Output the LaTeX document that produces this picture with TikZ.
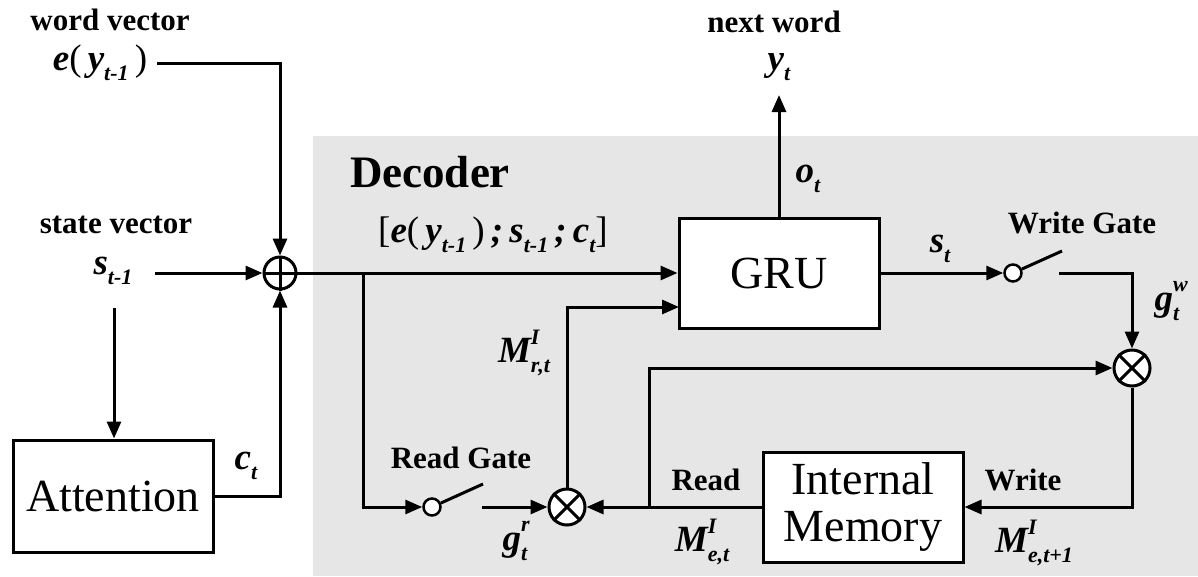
\documentclass[tikz,border=0pt]{standalone}
\usepackage{fontspec}
\setmainfont{Liberation Serif}
\usetikzlibrary{arrows.meta}
\newcommand\fs[1]{\fontsize{#1}{#1}\selectfont}
\newcommand\lsub[1]{\raisebox{-0.28em}{\fs{22}#1}}
\newcommand\lss[2]{\makebox[0pt][l]{\raisebox{0.5em}{\fs{22}#1}}\raisebox{-0.28em}{\fs{22}#2}}
\newcommand\up[1]{\textnormal{#1}}
\definecolor{decgray}{HTML}{E6E6E6}
\tikzset{
  wire/.style={line width=3pt},
  arr/.style={line width=3pt,-{Triangle[length=17pt,width=14pt]}},
  blk/.style={draw,line width=3pt,fill=white,minimum width=200pt,minimum height=110pt,inner sep=0pt,align=center,font=\fs{46}},
  sumc/.style={circle,draw,line width=3pt,fill=white,minimum size=32pt,inner sep=0pt},
  mulc/.style={circle,draw,line width=3pt,fill=white,minimum size=36pt,inner sep=0pt},
  swc/.style={circle,draw,line width=2.5pt,fill=white,minimum size=17pt,inner sep=0pt},
  lbl/.style={font=\fs{31}\bfseries,inner sep=0pt},
  mth/.style={font=\fs{37}\bfseries\itshape,inner sep=0pt},
}
\begin{document}
\begin{tikzpicture}[x=1pt,y=-1pt]
\useasboundingbox (0,0) rectangle (1198,576);
\fill[decgray] (313,136) rectangle (1198,576);

% text labels
\node[lbl] (wv) at (110,20) {word vector};
\node[mth] (ey) at (100,63) {e\up{(}\,y\lsub{t-1}\,\up{)}};
\node[lbl] (sv) at (116,225) {state vector};
\node[mth] (st1) at (113,271) {s\lsub{t-1}};
\node[mth] (ct) at (246,466) {c\lsub{t}};
\node[font=\fs{45}\bfseries,inner sep=0pt] (dec) at (430,172) {Decoder};
\node[mth] (cat) at (493,235) {\up{[}e\up{(}\,y\lsub{t-1}\,\up{)}\,;\,s\lsub{t-1}\,;\,c\lsub{t}\up{]}};
\node[lbl] (nw) at (774,22) {next word};
\node[mth] (yt) at (779,67) {y\lsub{t}};
\node[mth] (ot) at (808,179) {o\lsub{t}};
\node[mth] (stl) at (940,249) {s\lsub{t}};
\node[lbl] (wg) at (1082,223) {Write Gate};
\node[mth] (gw) at (1167,301) {g\lss{w}{t}};
\node[mth] (mr) at (524,353) {M\lss{I}{r,t}};
\node[lbl] (rg) at (461,458) {Read Gate};
\node[mth] (gr) at (515,541) {g\lss{r}{t}};
\node[lbl] (rd) at (706,480) {Read};
\node[mth] (me) at (702,542) {M\lss{I}{e,t}};
\node[lbl] (wr) at (1023,480) {Write};
\node[mth] (me1) at (1034,543) {M\lss{I}{e,t+1}};

% blocks
\node[blk,minimum height=112pt] (att) at (113,496) {Attention};
\node[blk] (gru) at (779,273) {GRU};
\node[blk] (mem) at (863,507) {Internal\\[1pt]Memory};

% operators
\node[sumc] (op) at (280,273) {};
\draw[line width=3pt] (op.north) -- (op.south) (op.west) -- (op.east);
\node[mulc] (otr) at (567,507) {};
\draw[line width=3pt] (otr.north west) -- (otr.south east) (otr.north east) -- (otr.south west);
\node[mulc] (otw) at (1132,368) {};
\draw[line width=3pt] (otw.north west) -- (otw.south east) (otw.north east) -- (otw.south west);
\node[swc] (rsw) at (432,507) {};
\node[swc] (wsw) at (1013,273) {};

% free ends
\coordinate (eyo) at (157,63);
\coordinate (sto) at (155,273);
\coordinate (std) at (114,308);
\coordinate (br) at (363,273);
\coordinate (rlev) at (483,484);
\coordinate (rgo) at (482,507);
\coordinate (gin2) at (679,307);
\coordinate (fb) at (649,507);
\coordinate (wlev) at (1062,251);
\coordinate (wgo) at (1059,273);
\coordinate (ytin) at (779,95);

% connectors
\draw[arr] (eyo) -| (op.north);
\draw[arr] (sto) -- (op.west);
\draw[arr] (std) -- (att.north -| std);
\draw[arr] (att.east) -| (op.south);
\draw[arr] (op.east) -- (gru.west);
\draw[arr] (br) |- (rsw.west);
\draw[wire] (rsw.24) -- (rlev);
\draw[arr] (rgo) -- (otr.west);
\draw[arr] (otr.north) |- (gin2);
\draw[arr] (mem.west) -- (otr.east);
\draw[arr] (fb) |- (otw.west);
\draw[arr] (gru.east) -- (wsw.west);
\draw[wire] (wsw.24) -- (wlev);
\draw[arr] (wgo) -| (otw.north);
\draw[arr] (otw.south) |- (mem.east);
\draw[arr] (gru.north) -- (ytin);
\end{tikzpicture}
\end{document}
